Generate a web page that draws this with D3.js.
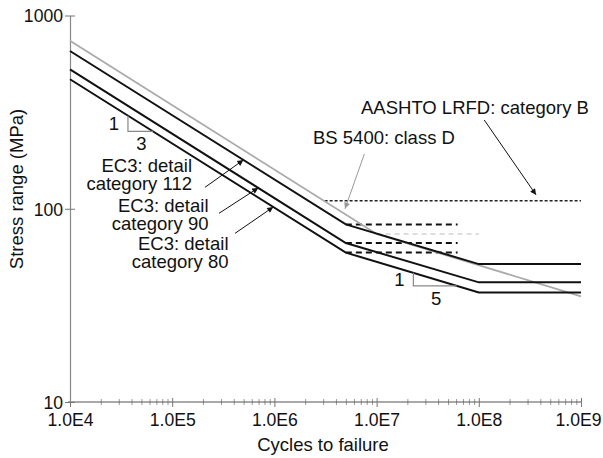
<!DOCTYPE html>
<html>
<head>
<meta charset="utf-8">
<script src="https://cdn.jsdelivr.net/npm/d3@7"></script>
<style>
  html, body { margin: 0; padding: 0; background: #fff; }
  svg { display: block; font-family: "Liberation Sans", Arial, sans-serif; }
</style>
</head>
<body>
<svg id="chart" width="603" height="458"></svg>
<script>
// Fatigue S-N curves: stress range (MPa) against cycles to failure, log-log.

// Axis ticks
const xMajorTicks = [1e4, 1e5, 1e6, 1e7, 1e8, 1e9];
const xTickLabels = ["1.0E4", "1.0E5", "1.0E6", "1.0E7", "1.0E8", "1.0E9"];
const yTicks = [10, 100, 1000];
const yTickLabels = ["10", "100", "1000"];

// EC3 detail categories: [cycles, stress range]
const ec3Cat112 = [[1e4, 655], [5e6, 83], [1e8, 51.7], [1e9, 51.7]];
const ec3Cat90  = [[1e4, 526], [5e6, 66.5], [1e8, 41.6], [1e9, 41.6]];
const ec3Cat80  = [[1e4, 468], [5e6, 59.3], [1e8, 36.9], [1e9, 36.9]];

// EC3 constant amplitude limits (dashed continuation)
const ec3CaflEnd = 6.2e7;
const ec3Cafl = [83, 66.5, 59.3];

// BS 5400 class D curve and its constant amplitude limit
const bs5400ClassD = [[1e4, 741], [1e7, 74], [1e9, 35.2]];
const bs5400Cafl = [[1e7, 74], [1e8, 74]];

// AASHTO LRFD category B constant amplitude threshold
const aashtoB = [[3.1e6, 110], [1e9, 110]];

// Slope triangles: [start cycles, end cycles, rise, run] under EC3 category 80
const slopeTriangles = [[3.69e4, 6.49e4, "1", "3"], [2.29e7, 6.08e7, "1", "5"]];

const W = 603, H = 458;
const margin = { left: 70, right: 22, top: 15.5, bottom: 56 };
const labelSize = 18.5;
const tickSize = 17.6;

const svg = d3.select("#chart");
const x = d3.scaleLog().domain([1e4, 1e9]).range([margin.left, W - margin.right]);
const y = d3.scaleLog().domain([10, 1000]).range([H - margin.bottom, margin.top]);

// Stress on a piecewise log-log curve at a given number of cycles
function stressAt(curve, n) {
  for (let i = 0; i < curve.length - 1; i++) {
    const [n0, s0] = curve[i], [n1, s1] = curve[i + 1];
    if (n >= n0 && n <= n1) {
      const t = (Math.log10(n) - Math.log10(n0)) / (Math.log10(n1) - Math.log10(n0));
      return Math.pow(10, Math.log10(s0) + t * (Math.log10(s1) - Math.log10(s0)));
    }
  }
  return curve[curve.length - 1][1];
}

const line = d3.line().x(d => x(d[0])).y(d => y(d[1]));

// Arrowhead markers
const defs = svg.append("defs");
[["arrowBlack", "#111"], ["arrowGrey", "#999"]].forEach(([id, c]) => {
  defs.append("marker")
    .attr("id", id)
    .attr("viewBox", "0 0 10 10")
    .attr("refX", 10).attr("refY", 5)
    .attr("markerWidth", 7).attr("markerHeight", 6)
    .attr("markerUnits", "userSpaceOnUse")
    .attr("orient", "auto")
    .append("path").attr("d", "M0,0 L10,5 L0,10 Z").attr("fill", c);
});

// X axis: minor ticks
const minorTicks = [];
for (let e = 4; e < 9; e++) for (let k = 2; k <= 9; k++) minorTicks.push(k * Math.pow(10, e));

const xMinor = svg.append("g")
  .attr("transform", `translate(0,${H - margin.bottom})`)
  .call(d3.axisBottom(x).tickValues(minorTicks).tickFormat("").tickSizeOuter(0).tickSizeInner(3));
xMinor.select(".domain").remove();
xMinor.selectAll(".tick line").attr("y1", -3).attr("y2", 3).attr("stroke", "#999");

// X axis: major ticks and labels
const xAxis = svg.append("g")
  .attr("transform", `translate(0,${H - margin.bottom})`)
  .call(d3.axisBottom(x).tickValues(xMajorTicks)
    .tickFormat((d, i) => xTickLabels[i]).tickSizeOuter(0).tickSizeInner(5));
xAxis.select(".domain").attr("stroke", "#555").attr("stroke-width", 1.2)
  .attr("d", `M${margin.left - 2},0H${W - margin.right}`);
xAxis.selectAll(".tick line").attr("y1", -4).attr("y2", 5).attr("stroke", "#777");
xAxis.selectAll(".tick text")
  .attr("y", 24).attr("dy", null)
  .attr("dx", (d, i) => i === xMajorTicks.length - 1 ? -3 : 0)
  .attr("font-size", tickSize).attr("fill", "#111")
  .attr("font-family", "Liberation Sans, Arial, sans-serif");

// Y axis
const yAxis = svg.append("g")
  .attr("transform", `translate(${margin.left},0)`)
  .call(d3.axisLeft(y).tickValues(yTicks)
    .tickFormat((d, i) => yTickLabels[i]).tickSizeOuter(0).tickSizeInner(5));
yAxis.select(".domain").attr("stroke", "#888").attr("stroke-width", 1.2);
yAxis.selectAll(".tick line").attr("x1", -5).attr("x2", 5).attr("stroke", "#777");
yAxis.selectAll(".tick text")
  .attr("x", -7).attr("dy", "0.36em")
  .attr("font-size", tickSize).attr("fill", "#111")
  .attr("font-family", "Liberation Sans, Arial, sans-serif");

// Axis titles
svg.append("text")
  .attr("x", 323).attr("y", 451)
  .attr("text-anchor", "middle").attr("font-size", labelSize).attr("fill", "#111")
  .text("Cycles to failure");
svg.append("text")
  .attr("transform", "translate(22.5,189) rotate(-90)")
  .attr("text-anchor", "middle").attr("font-size", labelSize).attr("fill", "#111")
  .text("Stress range (MPa)");

// Constant amplitude limits
const ec3Curves = [ec3Cat112, ec3Cat90, ec3Cat80];
ec3Curves.forEach((c, i) => {
  svg.append("path")
    .attr("d", line([[c[1][0], ec3Cafl[i]], [ec3CaflEnd, ec3Cafl[i]]]))
    .attr("fill", "none").attr("stroke", "#111")
    .attr("stroke-width", 2).attr("stroke-dasharray", "6,4");
});
svg.append("path")
  .attr("d", line(bs5400Cafl))
  .attr("fill", "none").attr("stroke", "#bbb")
  .attr("stroke-width", 1.2).attr("stroke-dasharray", "5,4");
svg.append("path")
  .attr("d", line(aashtoB))
  .attr("fill", "none").attr("stroke", "#222")
  .attr("stroke-width", 1.5).attr("stroke-dasharray", "3,2");

// S-N curves
svg.append("path")
  .attr("d", line(bs5400ClassD))
  .attr("fill", "none").attr("stroke", "#aaa").attr("stroke-width", 1.8);
ec3Curves.forEach(c => {
  svg.append("path")
    .attr("d", line(c))
    .attr("fill", "none").attr("stroke", "#111").attr("stroke-width", 2);
});

// Slope triangles below the category 80 curve
slopeTriangles.forEach(([n0, n1, rise, run]) => {
  const s0 = stressAt(ec3Cat80, n0), s1 = stressAt(ec3Cat80, n1);
  svg.append("path")
    .attr("d", line([[n0, s0], [n0, s1], [n1, s1]]))
    .attr("fill", "none").attr("stroke", "#888").attr("stroke-width", 1.2);
  const px = x(n0), py = y(s1), pyTop = y(s0);
  svg.append("text")
    .attr("x", px - 14).attr("y", (py + pyTop) / 2 + 6.5)
    .attr("text-anchor", "middle").attr("font-size", labelSize).attr("fill", "#111")
    .text(rise);
  svg.append("text")
    .attr("x", (px + x(n1)) / 2 + 1).attr("y", py + 19)
    .attr("text-anchor", "middle").attr("font-size", labelSize).attr("fill", "#111")
    .text(run);
});

// Annotation arrows: tail [cycles, stress], tip on a curve
const arrows = [
  { tail: [2.09e5, 129], tip: [4.97e5, stressAt(ec3Cat112, 4.97e5)], marker: "arrowBlack", color: "#111" },
  { tail: [2.87e5, 94.7], tip: [6.95e5, stressAt(ec3Cat90, 6.95e5)], marker: "arrowBlack", color: "#111" },
  { tail: [4.12e5, 74.6], tip: [9.75e5, stressAt(ec3Cat80, 9.75e5)], marker: "arrowBlack", color: "#111" },
  { tail: [7.59e6, 192], tip: [4.91e6, 100], marker: "arrowGrey", color: "#999" },
  { tail: [1.13e8, 288], tip: [3.63e8, 118], marker: "arrowBlack", color: "#111" }
];
arrows.forEach(a => {
  svg.append("line")
    .attr("x1", x(a.tail[0])).attr("y1", y(a.tail[1]))
    .attr("x2", x(a.tip[0])).attr("y2", y(a.tip[1]))
    .attr("stroke", a.color).attr("stroke-width", 1)
    .attr("marker-end", `url(#${a.marker})`);
});

// Curve labels
const labels = [
  { lines: ["AASHTO LRFD: category B"], x: 361, y: 113.5, anchor: "start" },
  { lines: ["BS 5400: class D"], x: 313, y: 143.5, anchor: "start" },
  { lines: ["EC3: detail", "category 112"], x: 192, y: 172, anchor: "end" },
  { lines: ["EC3: detail", "category 90"], x: 208.5, y: 211.5, anchor: "end" },
  { lines: ["EC3: detail", "category 80"], x: 228.5, y: 249.5, anchor: "end" }
];
labels.forEach(l => {
  const t = svg.append("text")
    .attr("text-anchor", l.anchor).attr("font-size", labelSize).attr("fill", "#111");
  l.lines.forEach((s, i) => {
    t.append("tspan").attr("x", l.x).attr("y", l.y + i * 18).text(s);
  });
});
</script>
</body>
</html>
